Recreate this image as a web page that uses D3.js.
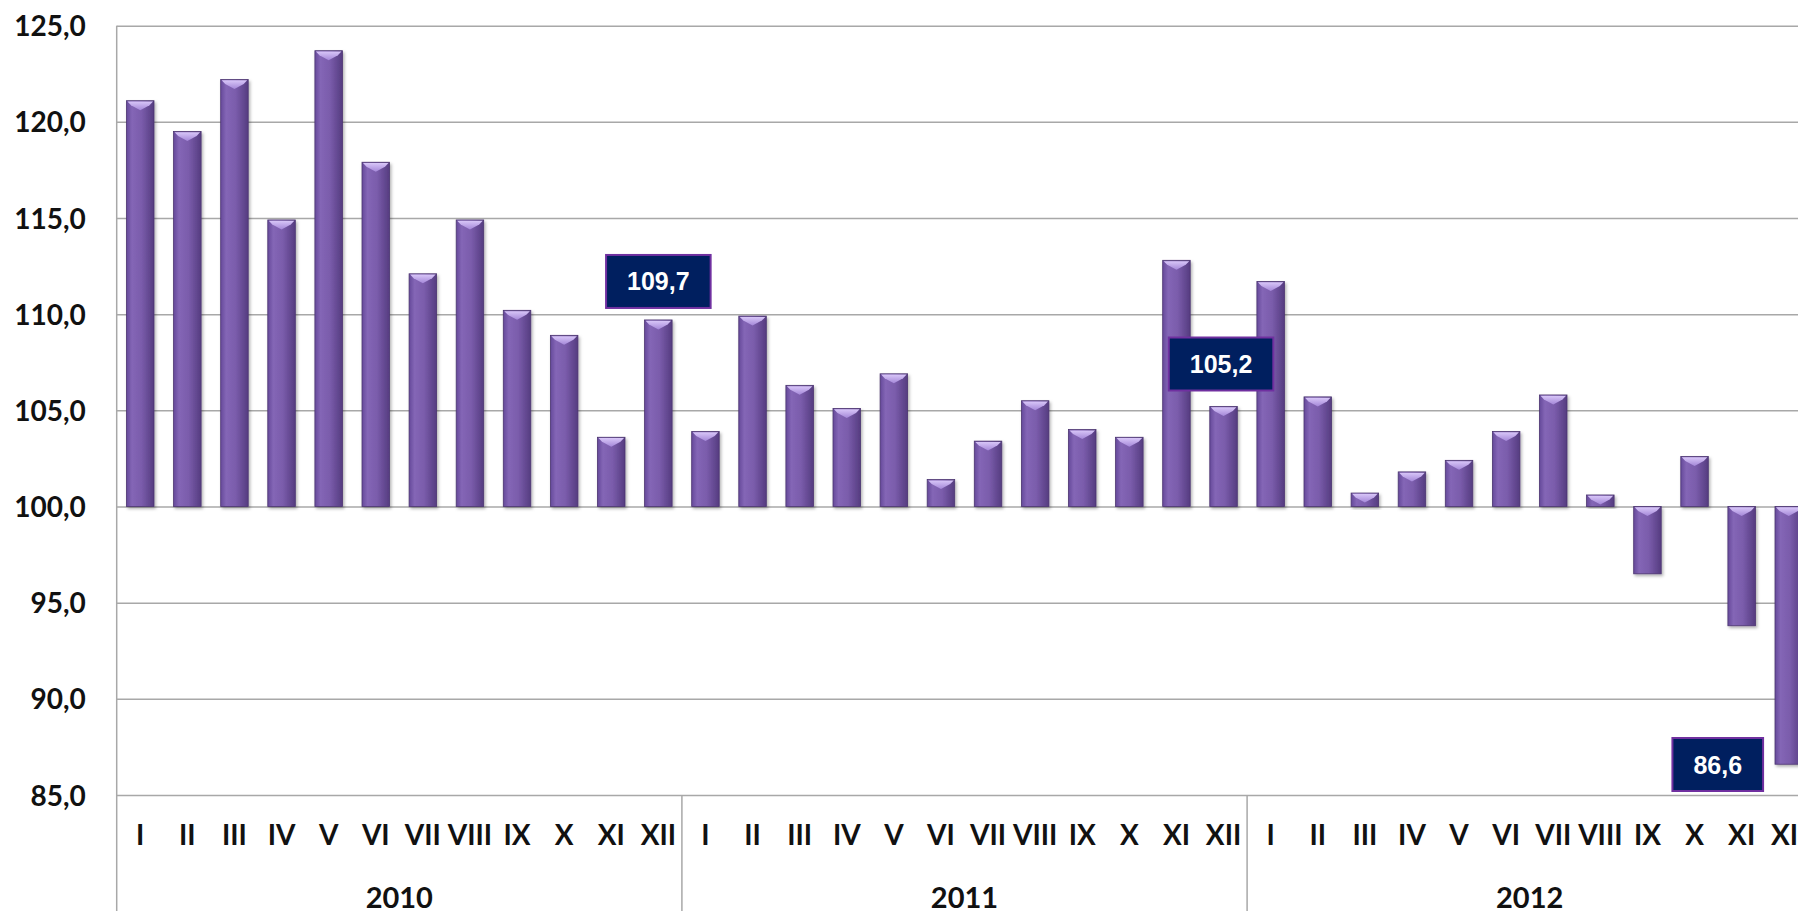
<!DOCTYPE html>
<html>
<head>
<meta charset="utf-8">
<script src="https://cdn.jsdelivr.net/npm/d3@7"></script>
<style>
  body { margin: 0; background: #fff; }
  svg { display: block; }
</style>
</head>
<body>
<div id="chart"></div>
<script>
// monthly index values, previous year = 100
const years = ["2010", "2011", "2012"];
const months = ["I", "II", "III", "IV", "V", "VI", "VII", "VIII", "IX", "X", "XI", "XII"];
const values2010 = [121.1, 119.5, 122.2, 114.9, 123.7, 117.9, 112.1, 114.9, 110.2, 108.9, 103.6, 109.7];
const values2011 = [103.9, 109.9, 106.3, 105.1, 106.9, 101.4, 103.4, 105.5, 104.0, 103.6, 112.8, 105.2];
const values2012 = [111.7, 105.7, 100.7, 101.8, 102.4, 103.9, 105.8, 100.6, 96.5, 102.6, 93.8, 86.6];
const yTicks = [85, 90, 95, 100, 105, 110, 115, 120, 125];
const baseValue = 100;
// callouts shown on the chart
const callouts = [
  { year: "2010", month: "XII", text: "109,7" },
  { year: "2011", month: "XII", text: "105,2" },
  { year: "2012", month: "XII", text: "86,6" }
];

const width = 1798,
  height = 911,
  margin = { top: 25.7, left: 116.7, bottom: 795 },
  step = 47.1;

const data = [];
[values2010, values2011, values2012].forEach(function(vals, yi) {
  vals.forEach(function(v, mi) {
    data.push({ key: years[yi] + "-" + months[mi], year: years[yi], month: months[mi], value: v });
  });
});

const locale = d3.formatLocale({ decimal: ",", thousands: " ", grouping: [3], currency: ["", ""] });
const fmt = locale.format(".1f");

const xScale = d3.scaleBand()
  .domain(data.map(d => d.key))
  .range([margin.left, margin.left + step * data.length])
  .paddingInner(0.416)
  .paddingOuter(0.208);

const yearScale = d3.scaleBand()
  .domain(years)
  .range([margin.left, margin.left + step * data.length]);

const yScale = d3.scaleLinear()
  .domain([85, 125])
  .range([margin.bottom, margin.top]);

const svg = d3.select("#chart").append("svg")
  .attr("width", width)
  .attr("height", height);

const defs = svg.append("defs");

const barGrad = defs.append("linearGradient")
  .attr("id", "barGrad")
  .attr("x1", "0").attr("x2", "1").attr("y1", "0").attr("y2", "0");
barGrad.append("stop").attr("offset", "0%").attr("stop-color", "#65499a");
barGrad.append("stop").attr("offset", "20%").attr("stop-color", "#8466b6");
barGrad.append("stop").attr("offset", "55%").attr("stop-color", "#7a5cab");
barGrad.append("stop").attr("offset", "100%").attr("stop-color", "#553c80");

const capGrad = defs.append("linearGradient")
  .attr("id", "capGrad")
  .attr("x1", "0").attr("x2", "0").attr("y1", "0").attr("y2", "1");
capGrad.append("stop").attr("offset", "0%").attr("stop-color", "#d8c6f8");
capGrad.append("stop").attr("offset", "100%").attr("stop-color", "#a487d8");

const shadow = defs.append("filter")
  .attr("id", "shadow")
  .attr("x", "-30%").attr("y", "-10%").attr("width", "160%").attr("height", "130%");
shadow.append("feDropShadow")
  .attr("dx", 1.5).attr("dy", 2)
  .attr("stdDeviation", 1.5)
  .attr("flood-color", "#000")
  .attr("flood-opacity", 0.3);

// gridlines + y labels
const yAxis = svg.append("g")
  .attr("transform", "translate(" + margin.left + ",0)")
  .call(d3.axisLeft(yScale)
    .tickValues(yTicks)
    .tickSize(-(width - margin.left + 40))
    .tickPadding(31)
    .tickFormat(fmt));
yAxis.select(".domain").remove();
yAxis.selectAll(".tick line")
  .attr("stroke", "#a8a8a8")
  .attr("stroke-width", 1.5);
yAxis.selectAll(".tick text")
  .attr("fill", "#111")
  .attr("dy", "0.36em")
  .style("font-family", "Lato, 'Open Sans', sans-serif")
  .style("font-weight", "bold")
  .style("font-size", "28px");

// left axis line
svg.append("line")
  .attr("x1", margin.left).attr("x2", margin.left)
  .attr("y1", yScale(125)).attr("y2", height)
  .attr("stroke", "#a8a8a8")
  .attr("stroke-width", 1.5);

// year dividers
svg.append("g")
  .selectAll("line")
  .data(years.slice(1))
  .enter()
  .append("line")
  .attr("x1", d => yearScale(d))
  .attr("x2", d => yearScale(d))
  .attr("y1", yScale(85))
  .attr("y2", height)
  .attr("stroke", "#a8a8a8")
  .attr("stroke-width", 1.5);

// month labels
const xAxis = svg.append("g")
  .attr("transform", "translate(0," + yScale(85) + ")")
  .call(d3.axisBottom(xScale)
    .tickSize(0)
    .tickPadding(30)
    .tickFormat(k => k.split("-")[1]));
xAxis.select(".domain").remove();
xAxis.selectAll(".tick text")
  .attr("fill", "#111")
  .style("font-family", "Lato, 'Open Sans', sans-serif")
  .style("font-weight", "bold")
  .style("font-size", "28px");

// year labels
svg.append("g")
  .selectAll("text")
  .data(years)
  .enter()
  .append("text")
  .attr("x", d => yearScale(d) + yearScale.bandwidth() / 2)
  .attr("y", 908)
  .attr("text-anchor", "middle")
  .attr("fill", "#111")
  .style("font-family", "Lato, 'Open Sans', sans-serif")
  .style("font-weight", "bold")
  .style("font-size", "29px")
  .text(d => d);

// bars
const bars = svg.append("g")
  .selectAll("g")
  .data(data)
  .enter()
  .append("g");

bars.append("rect")
  .attr("x", d => xScale(d.key))
  .attr("y", d => yScale(Math.max(d.value, baseValue)))
  .attr("width", xScale.bandwidth())
  .attr("height", d => Math.abs(yScale(d.value) - yScale(baseValue)))
  .attr("fill", "url(#barGrad)")
  .attr("stroke", "#4b3470")
  .attr("stroke-width", 0.8)
  .attr("filter", "url(#shadow)");

bars.append("polygon")
  .attr("points", function(d) {
    const x0 = xScale(d.key), w = xScale.bandwidth(), x1 = x0 + w, xc = x0 + w / 2;
    const t = yScale(Math.max(d.value, baseValue));
    return [[x0 + 1, t + 0.8], [x1 - 1, t + 0.8], [x1 - 4.5, t + 4.5], [xc, t + 9.5], [x0 + 4.5, t + 4.5]]
      .map(p => p.join(",")).join(" ");
  })
  .attr("fill", "url(#capGrad)");

// callout boxes
const callG = svg.append("g")
  .selectAll("g")
  .data(callouts)
  .enter()
  .append("g");

callG.each(function(c, i) {
  const d = data.find(e => e.year === c.year && e.month === c.month);
  const cx = xScale(d.key) + xScale.bandwidth() / 2;
  const g = d3.select(this);
  const txt = g.append("text")
    .attr("text-anchor", "middle")
    .attr("fill", "#fff")
    .style("font-family", "'Liberation Sans', Arial, sans-serif")
    .style("font-weight", "bold")
    .style("font-size", "25px")
    .text(c.text);
  const tw = txt.node().getComputedTextLength();
  const bw = tw + 42, bh = 53;
  let bx, by;
  if (i === 0) { bx = cx; by = yScale(d.value) - 12 - bh; }
  else if (i === 1) { bx = cx - 2.5; by = yScale(d.value) - 16 - bh; }
  else { bx = cx - 71; by = yScale(85) - 4 - bh; }
  g.insert("rect", "text")
    .attr("x", bx - bw / 2)
    .attr("y", by)
    .attr("width", bw)
    .attr("height", bh)
    .attr("fill", "#001f5f")
    .attr("stroke", "#7030a0")
    .attr("stroke-width", 2);
  txt.attr("x", bx).attr("y", by + bh / 2 + 9);
});
</script>
</body>
</html>
